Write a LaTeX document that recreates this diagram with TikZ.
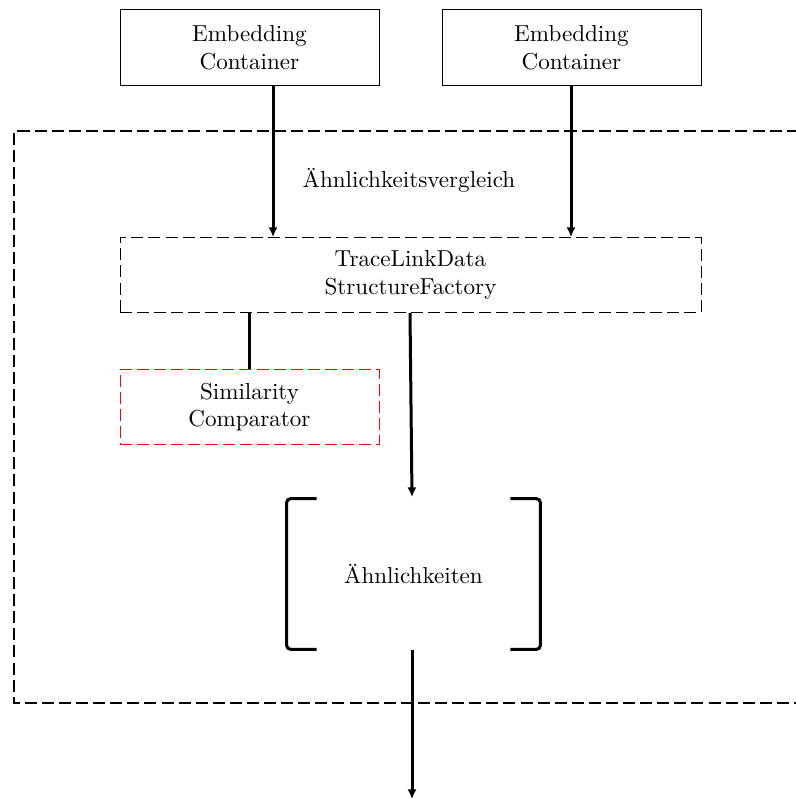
\documentclass[tikz,border=0pt]{standalone}
\usetikzlibrary{arrows.meta,calc}
\tikzset{
  box/.style={draw, line width=0.4pt, minimum width=112.1pt, minimum height=32.5pt, align=center, inner sep=0pt},
  dbox/.style={box, dash pattern=on 5.2pt off 2.2pt},
  flow/.style={line width=1.3pt, -{Latex[length=4.2pt,width=4pt]}},
  link/.style={line width=1.3pt},
  brk/.style={line width=1.3pt, rounded corners=1.8pt},
  frame/.style={draw, line width=0.45pt, dash pattern=on 5.2pt off 2.2pt}
}
\begin{document}
\begin{tikzpicture}[x=0.4329pt,y=-0.4329pt]
\useasboundingbox (0,0) rectangle (795,799);

% outer comparison frame (runs off the right edge)
\draw[frame] (850,131) -- (14,131) -- (14,703) -- (850,703);
\node (title) at (409,180) {Ähnlichkeitsvergleich};

% input containers
\node[box] (emb1) at (249.5,47.5) {Embedding\\Container};
\node[box] (emb2) at (571.5,47.5) {Embedding\\Container};

% factory and comparator
\node[dbox, minimum width=251.5pt] (factory) at (410.5,275) {TraceLinkData\\StructureFactory};
\node[dbox, draw=red] (comp) at (249.5,407) {Similarity\\Comparator};

% result list
\node[minimum width=109.5pt, minimum height=64.9pt, inner sep=0pt] (sim) at (413.5,574) {Ähnlichkeiten};
\draw[brk] ($(sim.north west)+(30,0)$) -- (sim.north west) -- (sim.south west) -- ($(sim.south west)+(30,0)$);
\draw[brk] ($(sim.north east)+(-30,0)$) -- (sim.north east) -- (sim.south east) -- ($(sim.south east)+(-30,0)$);

% connector columns
\coordinate (c1) at (273,0);
\coordinate (c2) at (571,0);
\coordinate (c3) at (249,0);
\coordinate (c4) at (410,0);
\coordinate (in) at (412,497);
\coordinate (from) at (412,650);
\coordinate (out) at (412,799);

% connectors
\draw[flow] (emb1.south -| c1) -- (factory.north -| c1);
\draw[flow] (emb2.south -| c2) -- (factory.north -| c2);
\draw[link] (factory.south -| c3) -- (comp.north -| c3);
\draw[flow] (factory.south -| c4) -- (in);
\draw[flow] (from) -- (out);
\end{tikzpicture}
\end{document}
